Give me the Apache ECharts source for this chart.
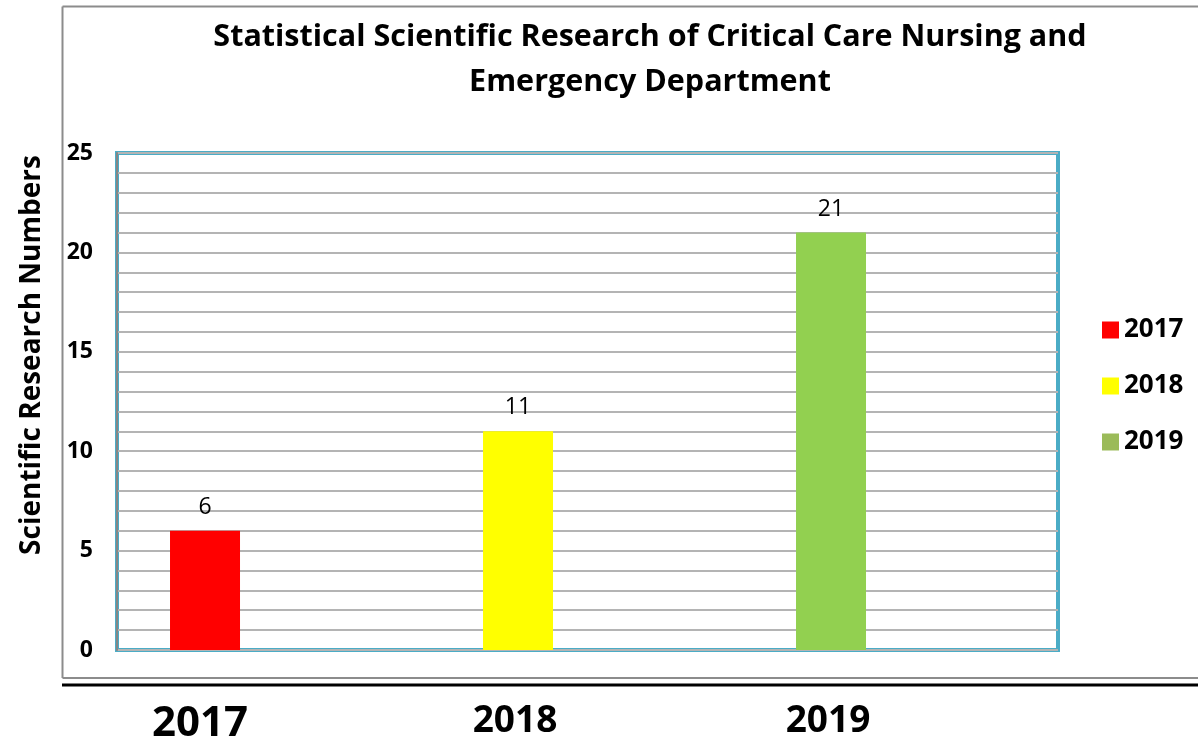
<!DOCTYPE html>
<html>
<head>
<meta charset="utf-8">
<script src="https://cdn.jsdelivr.net/npm/echarts@6/dist/echarts.min.js"></script>
<style>
  html, body { margin: 0; padding: 0; background: #fff; }
  #chart { width: 1198px; height: 740px; }
</style>
</head>
<body>
<div id="chart"></div>
<script>
// 数据
const years = [2017, 2018, 2019];
const researchNumbers = [6, 11, 21];
const barColors = ['#ff0000', '#ffff00', '#92d050'];
const legendColors = ['#ff0000', '#ffff00', '#9bbb59'];

const FONT = '"Open Sans", "Liberation Sans", sans-serif';

const chart = echarts.init(document.getElementById('chart'));

// 每年一个系列，方便图例
const series = years.map((y, i) => ({
  name: String(y),
  type: 'bar',
  barWidth: 70,
  barGap: '-100%',
  data: [[y, researchNumbers[i]]],
  itemStyle: { color: barColors[i] },
  label: {
    show: true,
    position: 'top',
    distance: 12,
    color: '#000',
    fontSize: 23,
    fontFamily: FONT,
    formatter: p => p.value[1]
  }
}));

chart.setOption({
  animation: false,
  title: {
    text: 'Statistical Scientific Research of Critical Care Nursing and\nEmergency Department',
    left: 645,
    textAlign: 'center',
    top: 10,
    textStyle: {
      fontFamily: FONT,
      fontSize: 30.5,
      fontWeight: 'bold',
      color: '#000',
      lineHeight: 45
    }
  },
  legend: {
    orient: 'vertical',
    left: 1097,
    top: 312,
    itemWidth: 17,
    itemHeight: 17,
    itemGap: 30,
    icon: 'rect',
    data: years.map((y, i) => ({ name: String(y), itemStyle: { color: legendColors[i] } })),
    textStyle: { fontFamily: FONT, fontSize: 26, fontWeight: 'bold', color: '#000' }
  },
  grid: {
    left: 117,
    top: 153,
    right: 140,
    bottom: 90,
    containLabel: false,
    outerBoundsMode: 'none',
    show: true,
    borderColor: '#4bacc6',
    borderWidth: 4
  },
  xAxis: {
    type: 'value',
    min: 2016.7188,
    max: 2019.7252,
    axisLine: { show: false },
    axisTick: { show: false },
    splitLine: { show: false },
    axisLabel: {
      customValues: years,
      margin: 53,
      color: '#000',
      formatter: v => (v === 2017 ? '{big|' + v + '}' : '{n|' + v + '}'),
      rich: {
        big: { fontFamily: FONT, fontSize: 42, fontWeight: 'bold', color: '#000', padding: [0, 10, 0, 0] },
        n: { fontFamily: FONT, fontSize: 37, fontWeight: 'bold', color: '#000', padding: [0, 6, 0, 0] }
      }
    }
  },
  yAxis: {
    type: 'value',
    min: 0,
    max: 25,
    interval: 5,
    axisLine: { show: true, lineStyle: { color: '#868686', width: 2 } },
    axisTick: { show: false },
    axisLabel: {
      margin: 24,
      color: '#000',
      fontFamily: FONT,
      fontSize: 23,
      fontWeight: 'bold'
    },
    splitLine: { show: true, lineStyle: { color: '#b4b4b4', width: 2 } },
    minorTick: { show: false, splitNumber: 5 },
    minorSplitLine: { show: true, lineStyle: { color: '#b4b4b4', width: 2 } }
  },
  graphic: [
    // 外框
    { type: 'line', shape: { x1: 62.5, y1: 6.5, x2: 1198, y2: 6.5 }, style: { stroke: '#8c8c8c', lineWidth: 2 } },
    { type: 'line', shape: { x1: 62.5, y1: 6.5, x2: 62.5, y2: 678 }, style: { stroke: '#8c8c8c', lineWidth: 2 } },
    { type: 'line', shape: { x1: 62.5, y1: 678, x2: 1198, y2: 678 }, style: { stroke: '#8c8c8c', lineWidth: 2 } },
    { type: 'line', shape: { x1: 62, y1: 685, x2: 1198, y2: 685 }, style: { stroke: '#000', lineWidth: 3 } },
    // Y 轴标题
    {
      type: 'text',
      x: 32,
      y: 355,
      rotation: Math.PI / 2,
      style: {
        text: 'Scientific Research Numbers',
        fontFamily: FONT,
        fontSize: 28,
        fontWeight: 'bold',
        fill: '#000',
        align: 'center',
        verticalAlign: 'middle'
      }
    }
  ],
  series: series
});
</script>
</body>
</html>
